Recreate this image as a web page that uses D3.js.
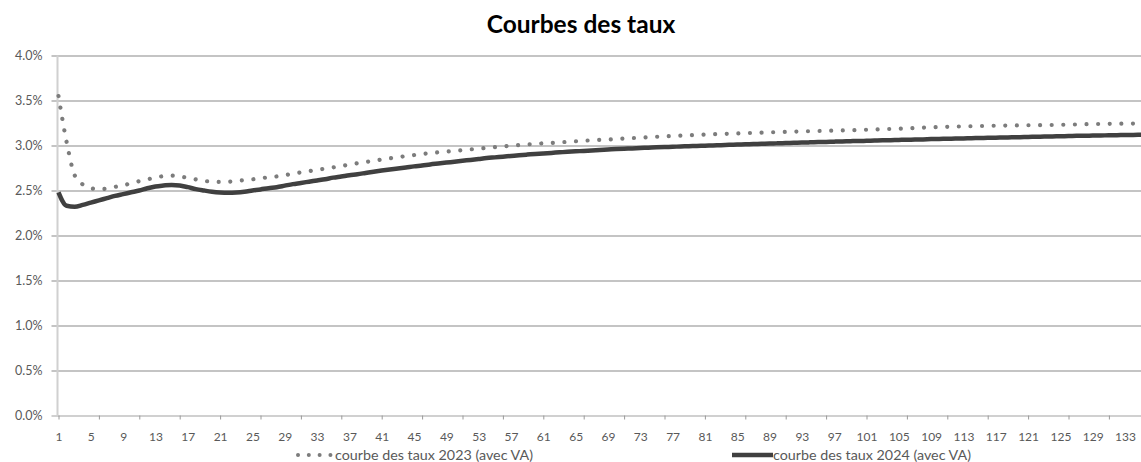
<!DOCTYPE html>
<html>
<head>
<meta charset="utf-8">
<script src="https://cdn.jsdelivr.net/npm/d3@7"></script>
<style>
  html, body { margin: 0; padding: 0; background: #fff; }
  svg { display: block; }
</style>
</head>
<body>
<div id="chart"></div>
<script>
// ---------- data ----------
const categories = d3.range(1, 136); // maturities 1..135
const xTickLabels = ["1","5","9","13","17","21","25","29","33","37","41","45","49","53","57","61","65","69","73","77","81","85","89","93","97","101","105","109","113","117","121","125","129","133"];
const yTickValues = [0, 0.5, 1.0, 1.5, 2.0, 2.5, 3.0, 3.5, 4.0];
const yTickLabels = ["0.0%","0.5%","1.0%","1.5%","2.0%","2.5%","3.0%","3.5%","4.0%"];
const seriesNames = ["courbe des taux 2023 (avec VA)", "courbe des taux 2024 (avec VA)"];
const titleText = "Courbes des taux";

const rate2023 = [
  3.55, 3.04, 2.67, 2.567, 2.526, 2.514, 2.521, 2.54, 2.556, 2.582,
  2.604, 2.623, 2.645, 2.659, 2.665, 2.656, 2.64, 2.623, 2.607, 2.598,
  2.595, 2.597, 2.606, 2.615, 2.624, 2.635, 2.647, 2.656, 2.67, 2.686,
  2.701, 2.715, 2.731, 2.743, 2.757, 2.772, 2.788, 2.803, 2.818, 2.829,
  2.845, 2.858, 2.87, 2.883, 2.894, 2.906, 2.915, 2.924, 2.932, 2.94,
  2.948, 2.957, 2.965, 2.974, 2.982, 2.99, 2.998, 3.005, 3.012, 3.018,
  3.024, 3.029, 3.035, 3.041, 3.047, 3.053, 3.058, 3.063, 3.067, 3.072,
  3.077, 3.082, 3.087, 3.092, 3.097, 3.102, 3.106, 3.11, 3.114, 3.118,
  3.122, 3.125, 3.128, 3.131, 3.134, 3.137, 3.14, 3.143, 3.146, 3.149,
  3.151, 3.154, 3.156, 3.159, 3.161, 3.163, 3.165, 3.167, 3.17, 3.172,
  3.175, 3.178, 3.181, 3.184, 3.187, 3.191, 3.195, 3.199, 3.202, 3.205,
  3.208, 3.21, 3.212, 3.214, 3.216, 3.218, 3.22, 3.221, 3.222, 3.223,
  3.225, 3.226, 3.227, 3.228, 3.23, 3.232, 3.234, 3.236, 3.238, 3.239,
  3.241, 3.242, 3.243, 3.244, 3.245
];

const rate2024 = [
  2.48, 2.33, 2.32, 2.34, 2.365, 2.39, 2.415, 2.44, 2.46, 2.48,
  2.50, 2.525, 2.545, 2.555, 2.562, 2.556, 2.537, 2.515, 2.50, 2.487,
  2.479, 2.476, 2.479, 2.487, 2.50, 2.512, 2.526, 2.537, 2.554, 2.571,
  2.584, 2.598, 2.612, 2.626, 2.643, 2.656, 2.67, 2.681, 2.695, 2.709,
  2.722, 2.734, 2.745, 2.756, 2.768, 2.778, 2.79, 2.8, 2.81, 2.82,
  2.83, 2.84, 2.85, 2.86, 2.868, 2.876, 2.884, 2.892, 2.899, 2.906,
  2.912, 2.918, 2.924, 2.93, 2.935, 2.94, 2.945, 2.95, 2.955, 2.96,
  2.964, 2.968, 2.972, 2.976, 2.98, 2.983, 2.986, 2.989, 2.992, 2.995,
  2.998, 3.001, 3.004, 3.007, 3.01, 3.013, 3.016, 3.019, 3.022, 3.024,
  3.027, 3.03, 3.033, 3.035, 3.038, 3.04, 3.043, 3.045, 3.048, 3.05,
  3.052, 3.055, 3.057, 3.059, 3.062, 3.064, 3.066, 3.068, 3.071, 3.073,
  3.075, 3.077, 3.079, 3.081, 3.083, 3.085, 3.087, 3.089, 3.091, 3.093,
  3.095, 3.097, 3.099, 3.101, 3.103, 3.105, 3.107, 3.108, 3.11, 3.112,
  3.113, 3.115, 3.117, 3.118, 3.12
];

// ---------- layout ----------
const W = 1141, H = 462;
const plotLeft = 58.5, catStep = 8.08;
const plotTop = 55.5, plotBottom = 415.5;
const FONT = "Lato, 'Open Sans', 'Liberation Sans', sans-serif";

const svg = d3.select("#chart").append("svg")
  .attr("width", W).attr("height", H)
  .attr("viewBox", `0 0 ${W} ${H}`);

const x = d3.scaleLinear()
  .domain([1, 135])
  .range([plotLeft, plotLeft + 134 * catStep]);

const y = d3.scaleLinear()
  .domain([0, 4])
  .range([plotBottom, plotTop]);

// title
svg.append("text")
  .attr("x", 581).attr("y", 33)
  .attr("text-anchor", "middle")
  .attr("font-family", FONT)
  .attr("font-weight", "bold")
  .attr("font-size", 24.5)
  .attr("fill", "#000")
  .text(titleText);

// y axis with gridlines
const yAxis = d3.axisLeft(y)
  .tickValues(yTickValues)
  .tickFormat((d, i) => yTickLabels[i])
  .tickSizeInner(-(W - plotLeft + 8))
  .tickSizeOuter(0)
  .tickPadding(0);

const gy = svg.append("g")
  .attr("transform", `translate(${plotLeft - 7},0)`)
  .call(yAxis);
gy.select(".domain").remove();
gy.selectAll(".tick line")
  .attr("x1", 0)
  .attr("x2", W)
  .attr("stroke", d => d === 0 ? "#d0d0d0" : "#b0b0b0")
  .attr("stroke-width", d => d === 0 ? 2 : 1.5);
gy.selectAll(".tick text")
  .attr("x", -9)
  .attr("dy", "0.35em")
  .attr("font-family", FONT)
  .attr("font-size", 12.5)
  .attr("fill", "#595959");

// vertical axis line
svg.append("line")
  .attr("x1", plotLeft - 1).attr("x2", plotLeft - 1)
  .attr("y1", y(4)).attr("y2", y(0) + 1)
  .attr("stroke", "#d0d0d0").attr("stroke-width", 2);

// x axis: tick marks every 5 categories, labels every 4
const xTickMarks = categories.filter(c => (c - 1) % 5 === 0);
const gxTicks = svg.append("g")
  .attr("transform", `translate(0,${plotBottom})`)
  .call(d3.axisBottom(x).tickValues(xTickMarks).tickFormat("").tickSizeInner(4).tickSizeOuter(0));
gxTicks.select(".domain").remove();
gxTicks.selectAll(".tick line").attr("stroke", "#9a9a9a").attr("stroke-width", 1);

const gxLabels = svg.append("g")
  .attr("transform", `translate(0,${plotBottom})`)
  .call(d3.axisBottom(x).tickValues(xTickLabels.map(Number)).tickFormat((d, i) => xTickLabels[i]).tickSize(0).tickPadding(0));
gxLabels.select(".domain").remove();
gxLabels.selectAll(".tick text")
  .attr("y", 25)
  .attr("dy", 0)
  .attr("font-family", FONT)
  .attr("font-size", 12)
  .attr("fill", "#595959");

// lines
const line = d3.line()
  .x((d, i) => x(categories[i]))
  .y(d => y(d))
  .curve(d3.curveMonotoneX);

svg.append("path")
  .datum(rate2024)
  .attr("d", line)
  .attr("fill", "none")
  .attr("stroke", "#404040")
  .attr("stroke-width", 4.5)
  .attr("stroke-linejoin", "round");

svg.append("path")
  .datum(rate2023)
  .attr("d", line)
  .attr("fill", "none")
  .attr("stroke", "#7c7c7c")
  .attr("stroke-width", 4.2)
  .attr("stroke-linecap", "round")
  .attr("stroke-dasharray", "0.01 11.6");

// legend
const lg = svg.append("g").attr("font-family", FONT).attr("font-size", 14.3).attr("fill", "#595959");
lg.append("line")
  .attr("x1", 298).attr("x2", 331).attr("y1", 455).attr("y2", 455)
  .attr("stroke", "#7c7c7c").attr("stroke-width", 4)
  .attr("stroke-linecap", "round").attr("stroke-dasharray", "0.01 10.8");
lg.append("text").attr("x", 335).attr("y", 460).text(seriesNames[0]);
lg.append("line")
  .attr("x1", 732).attr("x2", 773).attr("y1", 455).attr("y2", 455)
  .attr("stroke", "#404040").attr("stroke-width", 4.5);
lg.append("text").attr("x", 773).attr("y", 460).text(seriesNames[1]);
</script>
</body>
</html>
